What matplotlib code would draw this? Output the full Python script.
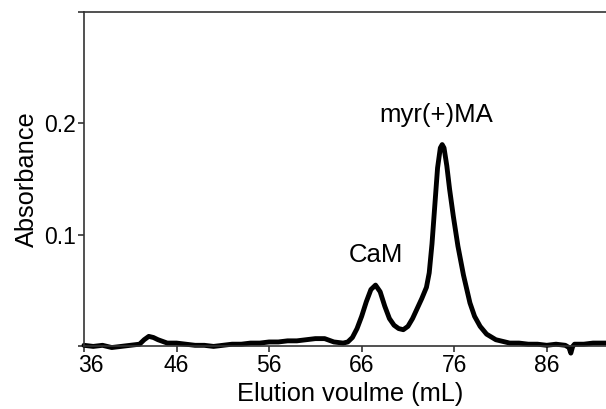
import matplotlib
matplotlib.use("Agg")
import matplotlib.pyplot as plt
import matplotlib.transforms as mtrans

plt.rcParams['font.family'] = ['Liberation Sans', 'DejaVu Sans']

# elution volume (mL) and absorbance
volume = [36, 37, 38, 39, 40, 41, 42, 42.5, 43, 43.5, 44, 45, 46, 47, 48, 49,
          50, 51, 52, 53, 54, 55, 56, 57, 58, 59, 60, 61, 62, 63, 64, 64.5,
          65, 65.5, 66, 66.5, 67, 67.5, 68, 68.5, 69, 69.5, 70, 70.5, 71,
          71.5, 72, 72.5, 73, 73.3, 73.6, 73.9, 74.2, 74.5, 74.7, 74.9, 75.2,
          75.5, 75.9, 76.4, 77, 77.7, 78.2, 78.8, 79.5, 80.5, 81, 82, 83, 84,
          85, 86, 87, 88, 88.4, 88.6, 88.8, 89, 90, 91, 92, 92.4]
absorbance = [0.001, 0.000, 0.001, -0.001, 0.000, 0.001, 0.002, 0.006, 0.009,
              0.008, 0.006, 0.003, 0.003, 0.002, 0.001, 0.001, 0.000, 0.001,
              0.002, 0.002, 0.003, 0.003, 0.004, 0.004, 0.005, 0.005, 0.006,
              0.007, 0.007, 0.004, 0.003, 0.004, 0.008, 0.016, 0.027, 0.040,
              0.051, 0.055, 0.049, 0.036, 0.025, 0.019, 0.016, 0.015, 0.018,
              0.025, 0.034, 0.043, 0.053, 0.066, 0.092, 0.126, 0.160, 0.178,
              0.181, 0.178, 0.162, 0.141, 0.117, 0.090, 0.064, 0.039, 0.027,
              0.018, 0.011, 0.006, 0.005, 0.003, 0.003, 0.002, 0.002, 0.001,
              0.002, 0.001, -0.001, -0.006, 0.000, 0.002, 0.002, 0.003, 0.003,
              0.003]

x_ticks = [36, 46, 56, 66, 76, 86]
y_ticks = [0, 0.1, 0.2, 0.3]
y_ticklabels = ['', '0.1', '0.2', '']

peak_labels = ['CaM', 'myr(+)MA']
peak_pos = [(67.5, 0.071), (74.1, 0.197)]

fig = plt.figure(figsize=(6.06, 4.09), dpi=100)
ax = fig.add_axes([0.1386, 0.153, 0.8614, 0.818])

ax.plot(volume, absorbance, color='black', linewidth=3.5, clip_on=False,
        solid_joinstyle='round', solid_capstyle='round')

ax.set_xlim(36, 92.4)
ax.set_ylim(0, 0.3)
ax.set_xticks(x_ticks)
ax.set_yticks(y_ticks)
ax.set_yticklabels(y_ticklabels)

for s in ['left', 'top', 'bottom']:
    ax.spines[s].set_color('#333333')
    ax.spines[s].set_linewidth(1.2)
ax.spines['right'].set_visible(False)

ax.tick_params(axis='both', direction='out', length=4, width=1.2,
               color='#333333', labelsize=16.5, pad=1.5)

# the first x label sits a little right of its tick in the original
first = ax.get_xticklabels()[0]
first.set_transform(first.get_transform() +
                    mtrans.ScaledTranslation(7 / 100, 0, fig.dpi_scale_trans))

ax.set_xlabel('Elution voulme (mL)', fontsize=18.3)
ax.xaxis.set_label_coords(0.51, -0.105)
ax.set_ylabel('Absorbance', fontsize=18.3, labelpad=4)

for txt, (px, py) in zip(peak_labels, peak_pos):
    ax.text(px, py, txt, fontsize=18.5, ha='center', va='bottom')

fig.savefig('out.png', dpi=100)
